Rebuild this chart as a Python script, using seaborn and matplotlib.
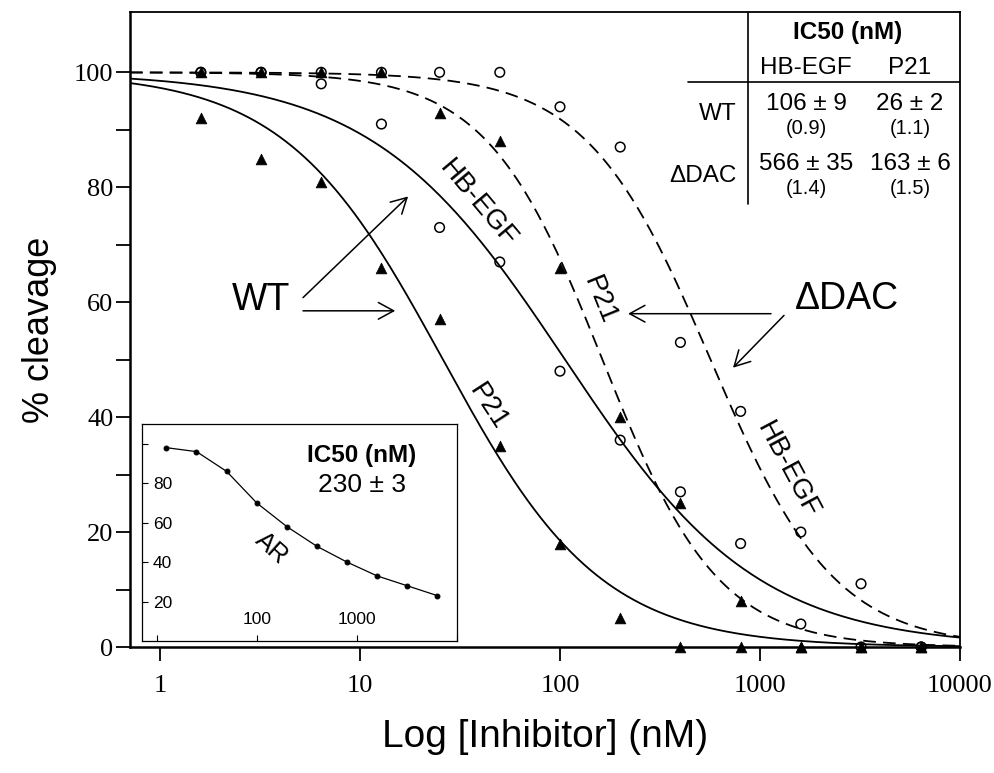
import numpy as np
import pandas as pd
import matplotlib
matplotlib.use("Agg")
import matplotlib.pyplot as plt
import seaborn as sns

# two-fold dilution series (nM) and % cleavage
conc = [1.6, 3.2, 6.4, 12.8, 25, 50, 100, 200, 400, 800, 1600, 3200, 6400]
wt_hbegf = [100, 100, 98, 91, 73, 67, 48, 36, 27, 18, 4, 0, 0]
wt_p21 = [92, 85, 81, 66, 57, 35, 18, 5, 0, 0, 0, 0, 0]
dac_hbegf = [100, 100, 100, 100, 100, 100, 94, 87, 53, 41, 20, 11, 0]
dac_p21 = [100, 100, 100, 100, 93, 88, 66, 40, 25, 8, 0, 0, 0]

# fit parameters shown in the table: IC50 (nM), error, hill slope
series = ["WT HB-EGF", "WT P21", "dDAC HB-EGF", "dDAC P21"]
ic50 = [106, 26, 566, 163]
ic50_err = [9, 2, 35, 6]
hill = [0.9, 1.1, 1.4, 1.5]

# inset: AR substrate
ar_conc = [12.5, 25, 50, 100, 200, 400, 800, 1600, 3200, 6400]
ar_cleavage = [98, 96, 86, 70, 58, 48, 40, 33, 28, 23]
ar_ic50 = 230
ar_err = 3

df = pd.DataFrame({"conc": conc, "WT HB-EGF": wt_hbegf, "WT P21": wt_p21,
                   "dDAC HB-EGF": dac_hbegf, "dDAC P21": dac_p21})

sns.set_style("ticks")
plt.rcParams["font.family"] = ["Liberation Sans", "DejaVu Sans"]
for key in ["text.color", "axes.labelcolor", "xtick.color", "ytick.color", "axes.edgecolor"]:
    plt.rcParams[key] = "black"

W, H = 995, 773
def fpos(px, py):
    return px / W, 1 - py / H

fig = plt.figure(figsize=(W / 100, H / 100), dpi=100)
ax = fig.add_axes([130 / W, 1 - 647 / H, 830 / W, 635 / H])

# fitted dose-response curves
xfit = np.logspace(np.log10(0.708), 4, 400)
styles = {"WT HB-EGF": "-", "WT P21": "-", "dDAC HB-EGF": (0, (7, 4)), "dDAC P21": (0, (7, 4))}
for name, c50, h in zip(series, ic50, hill):
    yfit = 100 / (1 + (xfit / c50) ** h)
    sns.lineplot(x=xfit, y=yfit, ax=ax, color="black", lw=1.3,
                 linestyle=styles[name], sort=False, zorder=2)

# data points
for name in ["WT P21", "dDAC P21"]:
    sns.scatterplot(data=df, x="conc", y=name, ax=ax, marker="^", s=60,
                    color="black", edgecolor="black", linewidth=0.5, zorder=3,
                    clip_on=False)
for name in ["WT HB-EGF", "dDAC HB-EGF"]:
    sns.scatterplot(data=df, x="conc", y=name, ax=ax, marker="o", s=48,
                    facecolors="none", edgecolor="black", linewidth=1.1, zorder=3,
                    clip_on=False)

ax.set_xscale("log")
ax.set_xlim(0.708, 10000)
ax.set_ylim(0, 110.5)
ax.set_xticks([1, 10, 100, 1000, 10000])
ax.set_xticklabels(["1", "10", "100", "1000", "10000"])
ax.xaxis.set_minor_locator(matplotlib.ticker.NullLocator())
ax.set_yticks([0, 20, 40, 60, 80, 100])
ax.set_yticks([10, 30, 50, 70, 90], minor=True)
for lbl in ax.get_xticklabels() + ax.get_yticklabels():
    lbl.set_fontfamily("Liberation Serif")
    lbl.set_fontsize(19)
ax.tick_params(axis="both", which="both", direction="out", length=10, width=1.3, color="black")
ax.tick_params(axis="x", pad=10)
ax.tick_params(axis="y", pad=2)
for sp in ax.spines.values():
    sp.set_linewidth(1.3)
ax.spines["left"].set_linewidth(1.8)
ax.spines["bottom"].set_linewidth(1.8)

ax.set_xlabel("Log [Inhibitor] (nM)", fontsize=28, labelpad=16)
ax.set_ylabel("% cleavage", fontsize=26, labelpad=12)

# curve labels
ax.text(38.9, 77.1, "HB-EGF", fontsize=20, rotation=-50, ha="center", va="center")
ax.text(43.7, 41.8, "P21", fontsize=20, rotation=-57, ha="center", va="center")
ax.text(158, 60.4, "P21", fontsize=20, rotation=-68, ha="center", va="center")
ax.text(1365, 30.8, "HB-EGF", fontsize=20, rotation=-62, ha="center", va="center")

# WT / dDAC call-outs
ax.text(3.2, 60.3, "WT", fontsize=27, ha="center", va="center")
ax.text(2723, 60.5, "\u0394DAC", fontsize=27, ha="center", va="center")
arrow = dict(arrowstyle="->,head_length=0.55,head_width=0.3", lw=1.1, color="black",
             shrinkA=0, shrinkB=0, mutation_scale=20)
ax.annotate("", xy=(17.4, 78.4), xytext=(5.19, 60.8), arrowprops=arrow)
ax.annotate("", xy=(15.0, 58.5), xytext=(5.19, 58.5), arrowprops=arrow)
ax.annotate("", xy=(219, 58.0), xytext=(1135, 58.0), arrowprops=arrow)
ax.annotate("", xy=(733, 48.6), xytext=(1318, 57.7), arrowprops=arrow)

# IC50 table, top right
ax.plot([871, 871], [(647 - 204) / 5.747, 110.5], color="black", lw=1.2, scalex=False, scaley=False)
ax.plot([10 ** ((688 - 160) / 200), 10000], [98.3, 98.3], color="black", lw=1.2, scalex=False, scaley=False)
fig.text(*fpos(848, 32), "IC50 (nM)", fontsize=17.5, fontweight="bold", ha="center", va="center")
fig.text(*fpos(806, 68), "HB-EGF", fontsize=17.5, ha="center", va="center")
fig.text(*fpos(910, 68), "P21", fontsize=17.5, ha="center", va="center")
fig.text(*fpos(737, 114), "WT", fontsize=17.5, ha="right", va="center")
fig.text(*fpos(737, 176), "\u0394DAC", fontsize=17.5, ha="right", va="center")
cell = {"WT HB-EGF": (806, 104), "WT P21": (910, 104),
        "dDAC HB-EGF": (806, 164), "dDAC P21": (910, 164)}
for name, c50, err, h in zip(series, ic50, ic50_err, hill):
    px, py = cell[name]
    fig.text(*fpos(px, py), f"{c50} \u00b1 {err}", fontsize=17.5, ha="center", va="center")
    fig.text(*fpos(px, py + 24), f"({h})", fontsize=14.5, ha="center", va="center")

# inset: AR
ins = fig.add_axes([141.7 / W, 1 - 641 / H, 315.6 / W, 217 / H])
sns.lineplot(x=ar_conc, y=ar_cleavage, ax=ins, color="black", lw=0.9,
             marker="o", markersize=3.5, markeredgecolor="black")
ins.set_xscale("log")
ins.set_xlim(7.08, 10140)
ins.set_ylim(0, 110)
ins.set_xticks([10, 100, 1000, 10000])
ins.set_xticklabels(["", "100", "1000", ""])
ins.xaxis.set_minor_locator(matplotlib.ticker.NullLocator())
ins.set_yticks([20, 40, 60, 80, 100])
ins.set_yticklabels(["20", "40", "60", "80", ""])
ins.tick_params(axis="both", direction="in", length=4, width=0.8, labelsize=12.5)
ins.tick_params(axis="x", pad=-10)
ins.tick_params(axis="y", pad=-8)
plt.setp(ins.get_xticklabels(), va="bottom")
plt.setp(ins.get_yticklabels(), ha="left")
for sp in ins.spines.values():
    sp.set_linewidth(0.9)
ins.text(0.697, 0.857, "IC50 (nM)", transform=ins.transAxes, fontsize=17.5,
         fontweight="bold", ha="center", va="center")
ins.text(0.697, 0.719, f"{ar_ic50} \u00b1 {ar_err}", transform=ins.transAxes,
         fontsize=19, ha="center", va="center")
ins.text(0.412, 0.429, "AR", transform=ins.transAxes, fontsize=18, rotation=-42,
         ha="center", va="center")

fig.savefig("out.png", dpi=100)
